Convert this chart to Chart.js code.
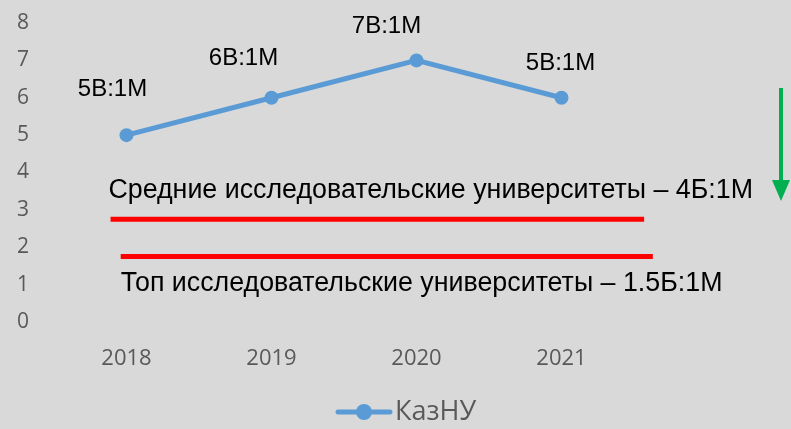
<!DOCTYPE html>
<html>
<head>
<meta charset="utf-8">
<script src="https://cdn.jsdelivr.net/npm/chart.js@4.4.0/dist/chart.umd.min.js"></script>
<style>
  html, body { margin: 0; padding: 0; background: #d9d9d9; }
  #wrap { width: 791px; height: 429px; }
</style>
</head>
<body>
<div id="wrap"><canvas id="chart" width="791" height="429"></canvas></div>
<script>
// chart data
const years = ['2018', '2019', '2020', '2021'];
const kaznuValues = [5, 6, 7, 6];
const pointLabels = ['5B:1M', '6B:1M', '7B:1M', '5B:1M'];
const yTicks = [0, 1, 2, 3, 4, 5, 6, 7, 8];
const refLevels = [2.75, 1.75];
const refTexts = [
    'Средние исследовательские университеты – 4Б:1M',
    'Топ исследовательские университеты – 1.5Б:1M'
];

// labels, reference lines, arrow and legend
const overlay = {
    id: 'overlay',
    afterDatasetsDraw(chart) {
        const ctx = chart.ctx;
        const x = chart.scales.x, y = chart.scales.y;
        const ds = chart.data.datasets[0];
        const meta = chart.getDatasetMeta(0);
        const dx = [-14, -28, -30, -1];
        const dy = [-46, -39, -34, -34];
        ctx.save();
        ctx.fillStyle = '#000';
        ctx.font = '24px "Liberation Sans", Arial, sans-serif';
        ctx.textAlign = 'center';
        ctx.textBaseline = 'middle';
        meta.data.forEach((pt, i) => {
            ctx.fillText(pointLabels[i], pt.x + dx[i], pt.y + dy[i]);
        });

        // red reference lines
        const ext = [[-0.11, 3.57], [-0.04, 3.63]];
        ctx.strokeStyle = '#ff0000';
        ctx.lineWidth = 5;
        refLevels.forEach((v, i) => {
            const py = y.getPixelForValue(v);
            ctx.beginPath();
            ctx.moveTo(x.getPixelForValue(ext[i][0]), py);
            ctx.lineTo(x.getPixelForValue(ext[i][1]), py);
            ctx.stroke();
        });

        ctx.textAlign = 'left';
        ctx.font = '26.8px "Liberation Sans", Arial, sans-serif';
        ctx.fillText(refTexts[0], x.getPixelForValue(-0.125), y.getPixelForValue(refLevels[0]) - 29);
        ctx.fillText(refTexts[1], x.getPixelForValue(-0.04), y.getPixelForValue(refLevels[1]) + 27);

        // green arrow on the right
        ctx.strokeStyle = '#00b050';
        ctx.fillStyle = '#00b050';
        ctx.lineWidth = 4;
        const ax = 781;
        ctx.beginPath(); ctx.moveTo(ax, 88); ctx.lineTo(ax, 184); ctx.stroke();
        ctx.beginPath();
        ctx.moveTo(ax - 9, 180); ctx.lineTo(ax + 9, 180); ctx.lineTo(ax, 201);
        ctx.closePath(); ctx.fill();

        // legend (line with dot + series name)
        const lx = 364, ly = 412;
        ctx.strokeStyle = ds.borderColor;
        ctx.fillStyle = ds.borderColor;
        ctx.lineWidth = 5;
        ctx.lineCap = 'round';
        ctx.beginPath(); ctx.moveTo(lx - 26, ly); ctx.lineTo(lx + 26, ly); ctx.stroke();
        ctx.beginPath(); ctx.arc(lx, ly, 8, 0, Math.PI * 2); ctx.fill();
        ctx.fillStyle = '#595959';
        ctx.font = '27px "Open Sans", sans-serif';
        ctx.fillText(ds.label, lx + 31, ly);
        ctx.restore();
    }
};

new Chart(document.getElementById('chart'), {
    type: 'line',
    data: {
        labels: years,
        datasets: [{
            label: 'КазНУ',
            data: kaznuValues,
            borderColor: '#5b9bd5',
            backgroundColor: '#5b9bd5',
            borderWidth: 5,
            pointRadius: 7,
            pointHoverRadius: 7,
            pointBackgroundColor: '#5b9bd5',
            pointBorderWidth: 0,
            tension: 0
        }]
    },
    options: {
        responsive: false,
        animation: false,
        layout: { padding: { top: 23, right: 0, left: 0, bottom: 0 } },
        plugins: {
            legend: { display: false },
            tooltip: { enabled: false }
        },
        scales: {
            x: {
                type: 'category',
                offset: true,
                grid: { display: false, drawTicks: false },
                border: { display: false },
                afterFit: (s) => { s.height = 107; s.paddingLeft = 0; s.paddingRight = 0; },
                ticks: {
                    color: '#595959',
                    font: { family: '"Open Sans", sans-serif', size: 22 },
                    padding: 24
                }
            },
            y: {
                min: 0,
                max: 8,
                grid: { display: false, drawTicks: false },
                border: { display: false },
                afterBuildTicks: (s) => { s.ticks = yTicks.map(v => ({ value: v })); },
                afterFit: (s) => { s.width = 54; s.paddingTop = 0; s.paddingBottom = 0; },
                ticks: {
                    color: '#595959',
                    font: { family: '"Open Sans", sans-serif', size: 21 },
                    padding: 25
                }
            },
            // empty right-hand strip that holds the annotation overflow
            yRight: {
                position: 'right',
                display: true,
                grid: { display: false },
                border: { display: false },
                ticks: { display: false },
                afterFit: (s) => { s.width = 157; s.paddingTop = 0; s.paddingBottom = 0; }
            }
        }
    },
    plugins: [overlay]
});
</script>
</body>
</html>
